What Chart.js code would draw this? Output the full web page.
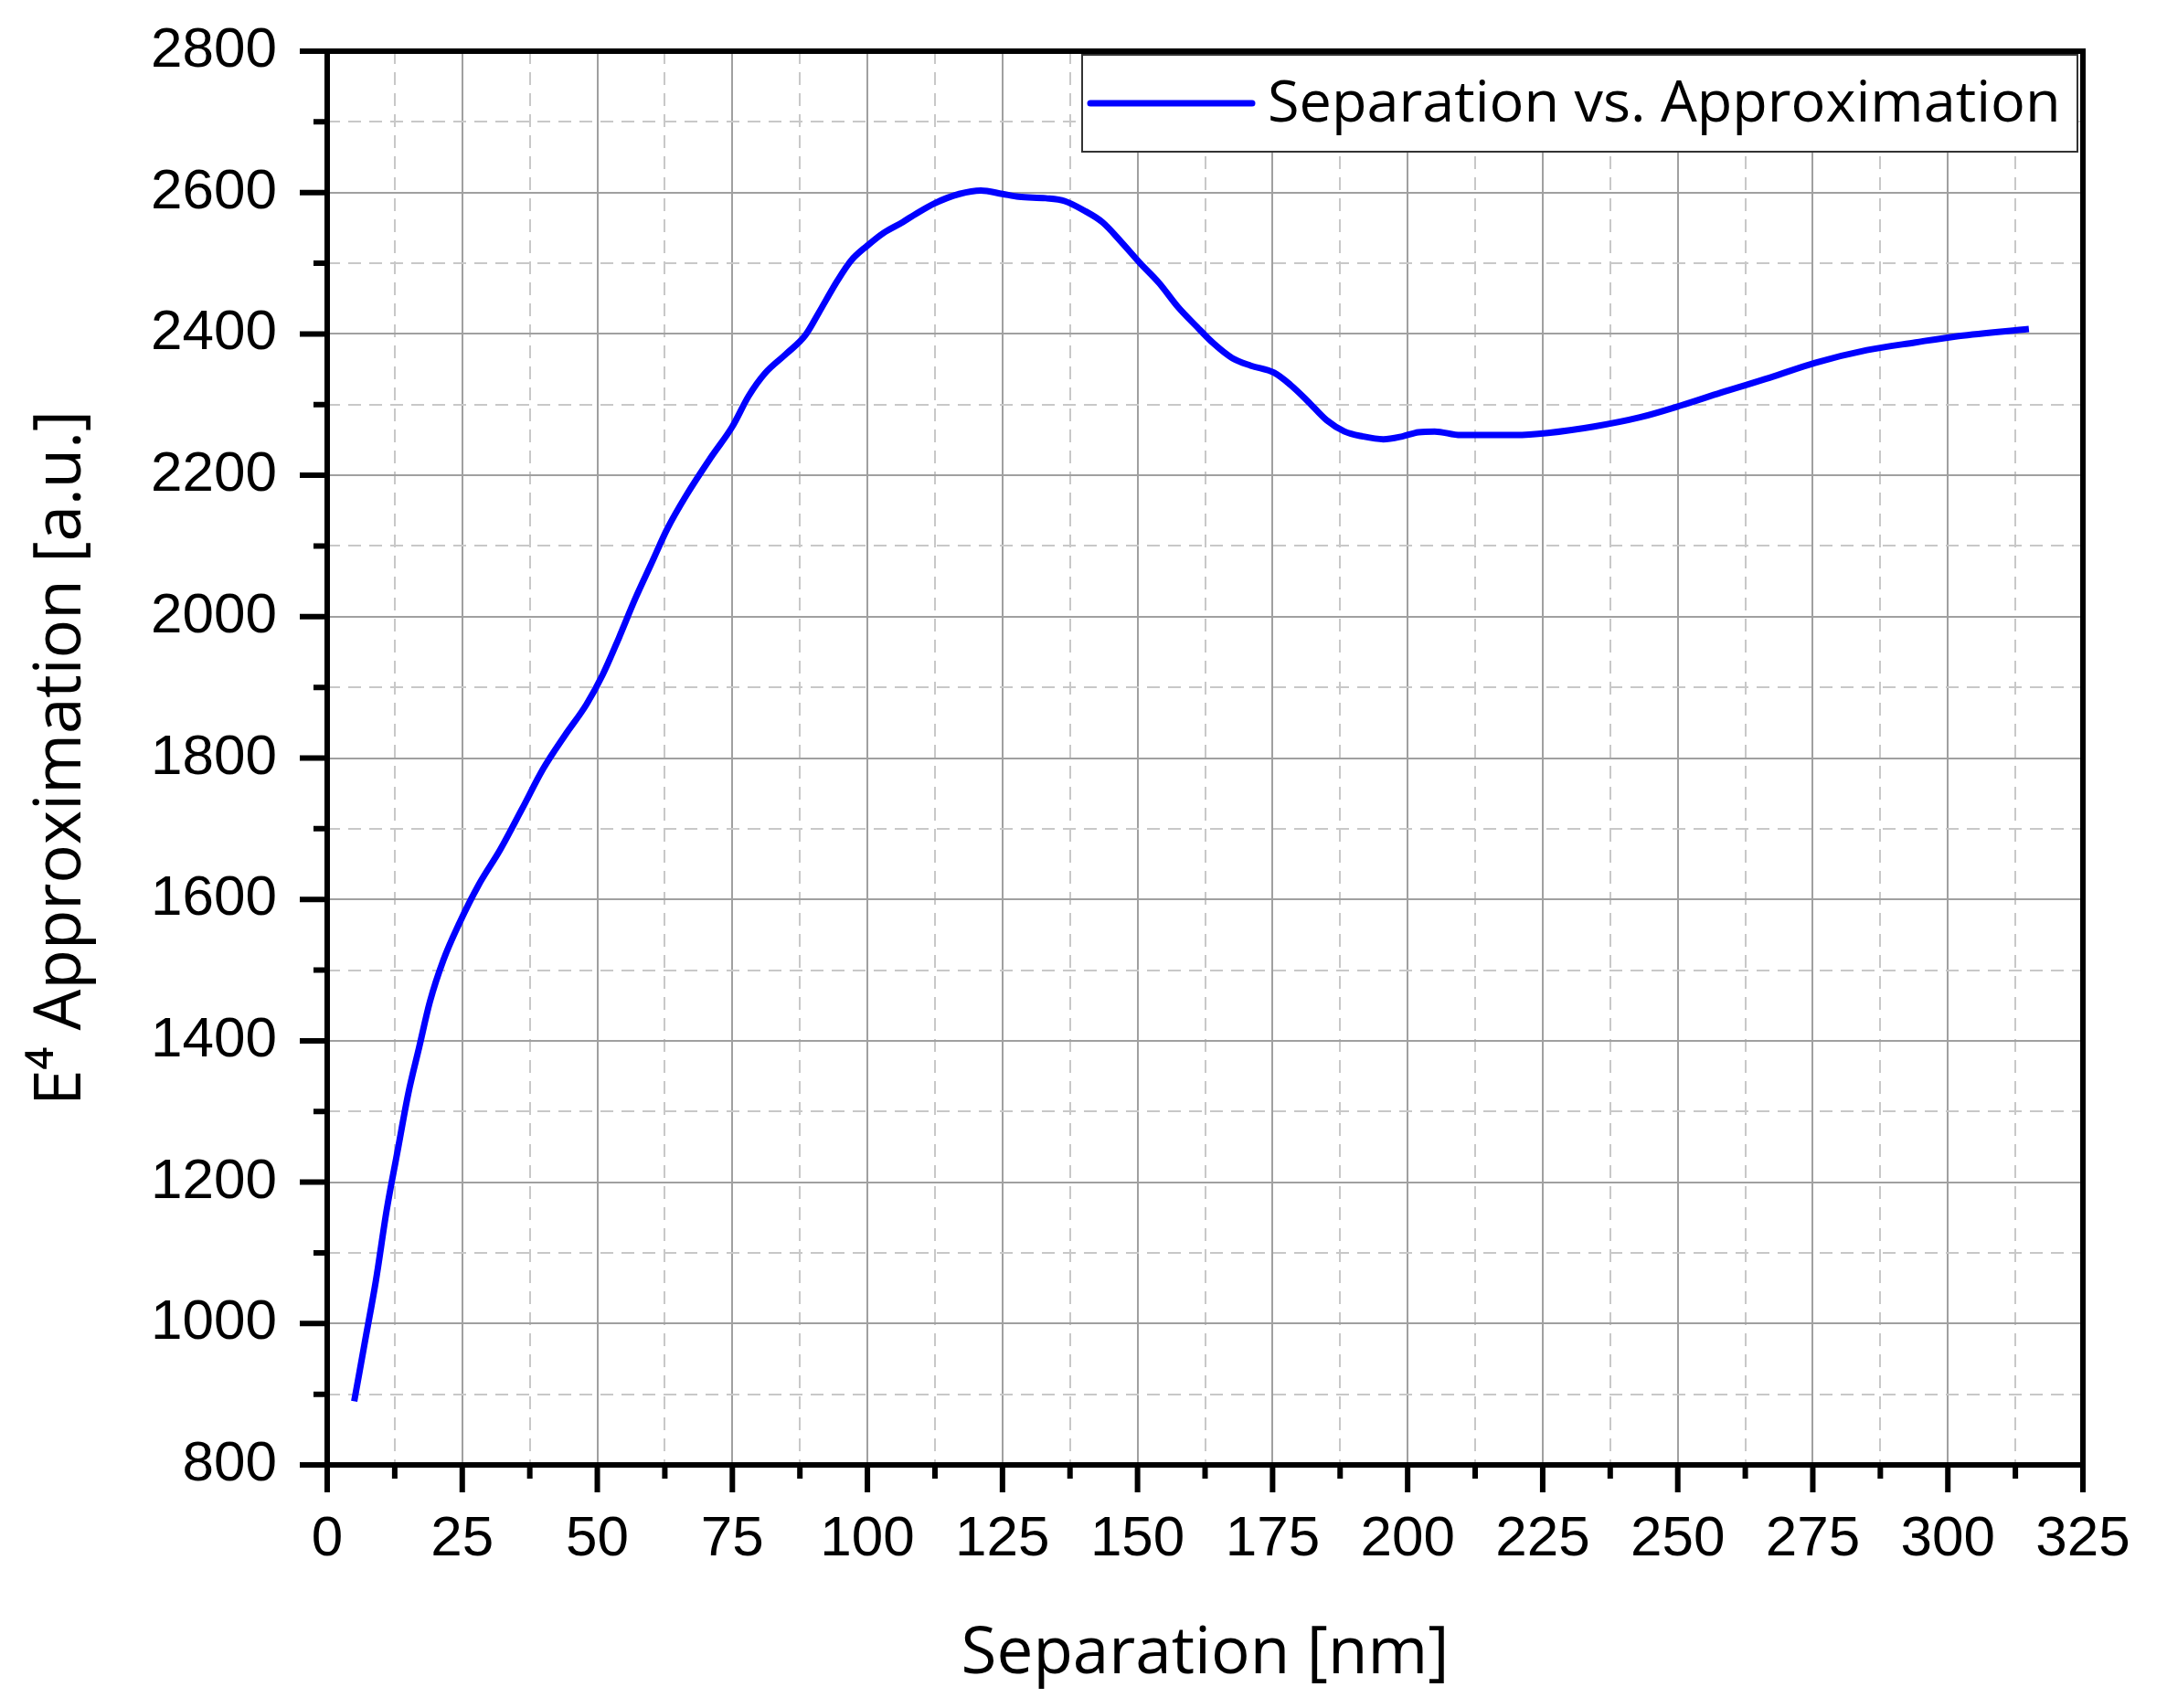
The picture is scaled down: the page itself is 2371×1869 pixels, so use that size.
<!DOCTYPE html>
<html>
<head>
<meta charset="utf-8">
<script src="https://cdn.jsdelivr.net/npm/chart.js@4.4.0/dist/chart.umd.min.js"></script>
<style>
  html, body { margin: 0; padding: 0; background: #fff; }
</style>
</head>
<body>
<canvas id="chart" width="2371" height="1869"></canvas>
<script>
// values
const separation = [5, 7, 9, 11, 13, 15, 17, 19, 21.5, 24.5, 28, 32, 36, 40, 44, 48, 51, 54, 57, 60,
  63, 66.5, 71, 75, 78, 81, 85, 88.5, 91, 94.5, 97, 100, 103, 106.5, 109, 112.5, 117, 121, 125, 128,
  133, 136.5, 140, 143.5, 147, 150.5, 154, 157.5, 161, 164, 167.5, 171, 175.3, 178.3, 181.5, 185, 188.3, 191.7, 195.5, 199,
  202, 205, 209.8, 215, 220, 226, 234.5, 243, 250.7, 258, 267, 275.4, 285, 294, 302, 315];
const approximation = [890, 975, 1060, 1160, 1243, 1325, 1390, 1455, 1514, 1567, 1620, 1670, 1727, 1785, 1832, 1876, 1918, 1970, 2025, 2075,
  2125, 2172, 2225, 2269, 2312, 2344, 2372, 2398, 2430, 2476, 2504, 2525, 2543, 2558, 2570, 2585, 2598, 2603, 2598, 2594,
  2592, 2588, 2575, 2558, 2530, 2500, 2472, 2438, 2410, 2387, 2366, 2355, 2345, 2328, 2305, 2278, 2262, 2255, 2251, 2255,
  2261, 2262, 2257, 2257, 2257, 2260, 2269, 2282, 2299, 2317, 2338, 2359, 2377, 2388, 2397, 2407];

const seriesLabel = 'Separation vs. Approximation';
const xTitle = 'Separation [nm]';
const yTitle = 'E\u2074 Approximation [a.u.]';

const xMin = 0, xMax = 325, xStep = 12.5, xMajor = 25;
const yMin = 800, yMax = 2800, yStep = 100, yMajor = 200;

const tickFont = { family: '"Liberation Sans", Arial, sans-serif', size: 62 };
const titleFont = { family: '"Open Sans", sans-serif', size: 71 };
const legendFont = { family: '"Open Sans", sans-serif', size: 63 };

const isMajor = (v, m) => Math.abs(v / m - Math.round(v / m)) < 1e-6;
const noPad = s => { s.paddingTop = 0; s.paddingBottom = 0; s.paddingLeft = 0; s.paddingRight = 0; };

// frame, tick marks and the boxed legend
const framePlugin = {
  id: 'frame',
  afterDraw(chart) {
    const { ctx, chartArea: a, scales: { x, y } } = chart;
    ctx.save();
    ctx.strokeStyle = '#000';
    ctx.lineWidth = 6;
    ctx.lineCap = 'butt';
    ctx.beginPath();
    x.ticks.forEach(t => {
      const px = x.getPixelForValue(t.value);
      const len = isMajor(t.value, xMajor) ? 30 : 15;
      ctx.moveTo(px, a.bottom);
      ctx.lineTo(px, a.bottom + len);
    });
    y.ticks.forEach(t => {
      const py = y.getPixelForValue(t.value);
      const len = isMajor(t.value, yMajor) ? 30 : 15;
      ctx.moveTo(a.left, py);
      ctx.lineTo(a.left - len, py);
    });
    ctx.stroke();
    ctx.strokeRect(a.left, a.top, a.right - a.left, a.bottom - a.top);

    // legend
    const ds = chart.data.datasets[0];
    const bx = 1184, by = 60, bw = 1089, bh = 106;
    ctx.fillStyle = '#fff';
    ctx.fillRect(bx, by, bw, bh);
    ctx.lineWidth = 2;
    ctx.strokeStyle = '#333';
    ctx.strokeRect(bx, by, bw, bh);
    ctx.strokeStyle = ds.borderColor;
    ctx.lineWidth = 7;
    ctx.lineCap = 'round';
    ctx.beginPath();
    ctx.moveTo(bx + 9, by + 53);
    ctx.lineTo(bx + 186, by + 53);
    ctx.stroke();
    ctx.fillStyle = '#000';
    ctx.font = legendFont.size + 'px ' + legendFont.family;
    ctx.textBaseline = 'middle';
    ctx.textAlign = 'left';
    ctx.fillText(ds.label, bx + 203, by + 55);
    ctx.restore();
  }
};

new Chart(document.getElementById('chart'), {
  type: 'line',
  data: {
    datasets: [{
      label: seriesLabel,
      data: separation.map((s, i) => ({ x: s, y: approximation[i] })),
      borderColor: '#0000ff',
      borderWidth: 7,
      pointRadius: 0,
      cubicInterpolationMode: 'monotone',
      fill: false
    }]
  },
  options: {
    responsive: false,
    animation: false,
    devicePixelRatio: 1,
    layout: { padding: { left: 0, top: 56, right: 92, bottom: 0 } },
    plugins: { legend: { display: false }, tooltip: { enabled: false } },
    scales: {
      x: {
        type: 'linear',
        min: xMin, max: xMax,
        afterFit: s => { s.height = 266; noPad(s); },
        afterBuildTicks: s => {
          s.ticks = [];
          for (let v = xMin; v <= xMax + 1e-9; v += xStep) s.ticks.push({ value: v });
        },
        ticks: {
          autoSkip: false, maxRotation: 0, padding: 45, color: '#000', font: tickFont,
          callback: v => isMajor(v, xMajor) ? String(v) : ''
        },
        grid: {
          drawTicks: false,
          color: c => isMajor(c.tick.value, xMajor) ? '#a0a0a0' : '#c8c8c8',
          lineWidth: 2
        },
        border: { display: false, dash: c => isMajor(c.tick.value, xMajor) ? [] : [14, 9] },
        title: { display: true, text: xTitle, color: '#000', font: titleFont, padding: { top: 0, bottom: 16 } }
      },
      y: {
        type: 'linear',
        min: yMin, max: yMax,
        afterFit: s => { s.width = 358; noPad(s); },
        afterBuildTicks: s => {
          s.ticks = [];
          for (let v = yMin; v <= yMax + 1e-9; v += yStep) s.ticks.push({ value: v });
        },
        ticks: {
          autoSkip: false, padding: 55, color: '#000', font: tickFont,
          callback: v => isMajor(v, yMajor) ? String(v) : ''
        },
        grid: {
          drawTicks: false,
          color: c => isMajor(c.tick.value, yMajor) ? '#a0a0a0' : '#c8c8c8',
          lineWidth: 2
        },
        border: { display: false, dash: c => isMajor(c.tick.value, yMajor) ? [] : [14, 9] },
        title: { display: true, text: yTitle, color: '#000', font: titleFont, padding: { top: 25, bottom: 0 } }
      }
    }
  },
  plugins: [framePlugin]
});
</script>
</body>
</html>
